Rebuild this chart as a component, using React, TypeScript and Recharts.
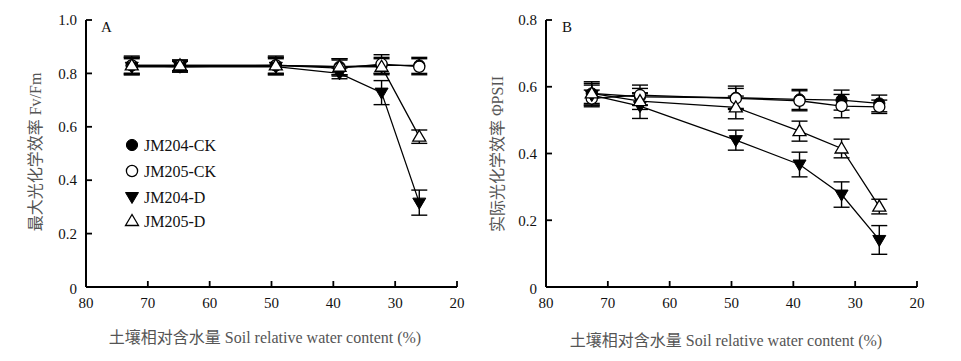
import React from 'react';
import { LineChart, Line, XAxis, YAxis, ErrorBar, Legend } from 'recharts';

// Soil relative water content (%) — x positions of the measurements
const waterContent = [72.6, 64.8, 49.3, 39.0, 32.2, 26.1];
const xTicks = [80, 70, 60, 50, 40, 30, 20];

// Panel A: Fv/Fm
const fvfmTicks = [0, 0.2, 0.4, 0.6, 0.8, 1.0];
const fvfmJM204CK = [0.83, 0.825, 0.83, 0.825, 0.83, 0.83];
const fvfmJM205CK = [0.83, 0.83, 0.83, 0.82, 0.835, 0.825];
const fvfmJM204D = [0.825, 0.825, 0.825, 0.8, 0.728, 0.316];
const fvfmJM205D = [0.83, 0.83, 0.83, 0.825, 0.825, 0.563];
const fvfmErrJM204CK = [0.03, 0.02, 0.03, 0.03, 0.03, 0.03];
const fvfmErrJM205CK = [0.035, 0.02, 0.035, 0.03, 0.035, 0.03];
const fvfmErrJM204D = [0.03, 0.02, 0.03, 0.02, 0.045, 0.047];
const fvfmErrJM205D = [0.03, 0.02, 0.03, 0.03, 0.03, 0.025];

// Panel B: ΦPSII
const psiiTicks = [0, 0.2, 0.4, 0.6, 0.8];
const psiiJM204CK = [0.58, 0.57, 0.567, 0.562, 0.56, 0.55];
const psiiJM205CK = [0.565, 0.575, 0.565, 0.558, 0.542, 0.54];
const psiiJM204D = [0.575, 0.542, 0.44, 0.367, 0.277, 0.141];
const psiiJM205D = [0.58, 0.557, 0.538, 0.467, 0.415, 0.241];
const psiiErrJM204CK = [0.035, 0.025, 0.035, 0.03, 0.03, 0.025];
const psiiErrJM205CK = [0.025, 0.03, 0.03, 0.03, 0.035, 0.02];
const psiiErrJM204D = [0.03, 0.037, 0.03, 0.037, 0.038, 0.043];
const psiiErrJM205D = [0.03, 0.025, 0.034, 0.03, 0.028, 0.022];

const seriesNames = ['JM204-CK', 'JM205-CK', 'JM204-D', 'JM205-D'];
const seriesKeys = ['ck204', 'ck205', 'd204', 'd205'];
const markerTypes = ['filledCircle', 'openCircle', 'filledDown', 'openUp'];

const FONT = "'Liberation Serif', 'Times New Roman', 'Noto Sans CJK SC', serif";

function buildRows(vals: number[][], errs: number[][]) {
  return waterContent.map((x, i) => {
    const row: any = { x };
    seriesKeys.forEach((k, s) => {
      row[k] = vals[s][i];
      row[k + 'Err'] = errs[s][i];
    });
    return row;
  });
}

const dataA = buildRows(
  [fvfmJM204CK, fvfmJM205CK, fvfmJM204D, fvfmJM205D],
  [fvfmErrJM204CK, fvfmErrJM205CK, fvfmErrJM204D, fvfmErrJM205D]
);
const dataB = buildRows(
  [psiiJM204CK, psiiJM205CK, psiiJM204D, psiiJM205D],
  [psiiErrJM204CK, psiiErrJM205CK, psiiErrJM204D, psiiErrJM205D]
);

function Marker({ type, cx, cy }: { type: string; cx: number; cy: number }) {
  if (cx == null || cy == null) return null;
  switch (type) {
    case 'filledCircle':
      return <circle cx={cx} cy={cy} r={5.6} fill="#000" stroke="#000" strokeWidth={1} />;
    case 'openCircle':
      return <circle cx={cx} cy={cy} r={5.6} fill="#fff" stroke="#000" strokeWidth={1.3} />;
    case 'filledDown':
      return (
        <polygon
          points={`${cx - 6.5},${cy - 4.5} ${cx + 6.5},${cy - 4.5} ${cx},${cy + 6.5}`}
          fill="#000"
          stroke="#000"
          strokeWidth={1}
        />
      );
    default:
      return (
        <polygon
          points={`${cx},${cy - 6.5} ${cx - 6.5},${cy + 4.5} ${cx + 6.5},${cy + 4.5}`}
          fill="#fff"
          stroke="#000"
          strokeWidth={1.3}
        />
      );
  }
}

const XTick = (props: any) => {
  const { x, y, payload } = props;
  return (
    <g>
      <line x1={x} x2={x} y1={y} y2={y - 6} stroke="#000" strokeWidth={1.8} />
      <text x={x} y={y + 21} textAnchor="middle" fontSize={15} fontFamily={FONT} fill="#111">
        {payload.value}
      </text>
    </g>
  );
};

const YTick = (props: any) => {
  const { x, y, payload } = props;
  const v = payload.value;
  const label = v === 0 ? '0' : Number(v).toFixed(1);
  return (
    <g>
      <line x1={x} x2={x + 6} y1={y} y2={y} stroke="#000" strokeWidth={1.8} />
      <text x={x - 9} y={y} dy={v === 0 ? '0.45em' : '0.35em'} textAnchor="end" fontSize={15} fontFamily={FONT} fill="#111">
        {label}
      </text>
    </g>
  );
};

const LegendContent = () => (
  <svg width={130} height={100} style={{ display: 'block', overflow: 'visible' }}>
    {seriesNames.map((name, i) => {
      const cy = [12, 38, 64, 88][i];
      return (
        <g key={name}>
          <Marker type={markerTypes[i]} cx={12} cy={cy} />
          <text x={24} y={cy} dy="0.35em" fontSize={16} fontFamily={FONT} fill="#111">
            {name}
          </text>
        </g>
      );
    })}
  </svg>
);

function Panel({ data, yDomain, yTicks, showLegend }: any) {
  return (
    <LineChart width={480} height={361} data={data} margin={{ top: 20, right: 23, bottom: 44, left: 26 }}>
      <XAxis
        dataKey="x"
        type="number"
        domain={[20, 80]}
        ticks={xTicks}
        interval={0}
        reversed
        height={30}
        tickSize={0}
        tickMargin={0}
        tickLine={false}
        axisLine={{ stroke: '#000', strokeWidth: 2 }}
        tick={<XTick />}
      />
      <YAxis
        type="number"
        domain={yDomain}
        ticks={yTicks}
        interval={0}
        width={60}
        tickSize={0}
        tickMargin={0}
        tickLine={false}
        axisLine={{ stroke: '#000', strokeWidth: 2 }}
        tick={<YTick />}
      />
      {seriesKeys.map((k, i) => (
        <Line
          key={k}
          dataKey={k}
          type="linear"
          stroke="#000"
          strokeWidth={1.3}
          isAnimationActive={false}
          activeDot={false}
          dot={(p: any) => <Marker key={`${k}-${p.index}`} type={markerTypes[i]} cx={p.cx} cy={p.cy} />}
        >
          <ErrorBar dataKey={k + 'Err'} direction="y" width={8} stroke="#000" strokeWidth={1.4} isAnimationActive={false} />
        </Line>
      ))}
      {showLegend && (
        <Legend
          layout="horizontal"
          verticalAlign="middle"
          align="center"
          content={<LegendContent />}
          wrapperStyle={{ left: 120, top: 133, width: 130, height: 100 }}
        />
      )}
    </LineChart>
  );
}

export default function App() {
  return (
    <div style={{ position: 'absolute', left: 0, top: 0, width: 961, height: 361, background: '#fff' }}>
      <div style={{ position: 'absolute', left: 0, top: 0 }}>
        <Panel data={dataA} yDomain={[0, 1]} yTicks={fvfmTicks} showLegend />
      </div>
      <div style={{ position: 'absolute', left: 460, top: 0 }}>
        <Panel data={dataB} yDomain={[0, 0.8]} yTicks={psiiTicks} showLegend={false} />
      </div>
      <svg width={961} height={361} style={{ position: 'absolute', left: 0, top: 0, pointerEvents: 'none' }}>
        <text x={101} y={32} fontSize={15} fontFamily={FONT} fill="#111">A</text>
        <text x={562} y={32} fontSize={15} fontFamily={FONT} fill="#111">B</text>
        <text x={265} y={337} dy="0.35em" textAnchor="middle" fontSize={16} fontFamily={FONT} fill="#555">
          土壤相对含水量 Soil relative water content (%)
        </text>
        <text x={726} y={340} dy="0.35em" textAnchor="middle" fontSize={16} fontFamily={FONT} fill="#555">
          土壤相对含水量 Soil relative water content (%)
        </text>
        <text transform="translate(35,152) rotate(-90)" dy="0.35em" textAnchor="middle" fontSize={16} fontFamily={FONT} fill="#555">
          最大光化学效率 Fv/Fm
        </text>
        <text transform="translate(497,154) rotate(-90)" dy="0.35em" textAnchor="middle" fontSize={16} fontFamily={FONT} fill="#555">
          实际光化学效率 ΦPSII
        </text>
      </svg>
    </div>
  );
}
